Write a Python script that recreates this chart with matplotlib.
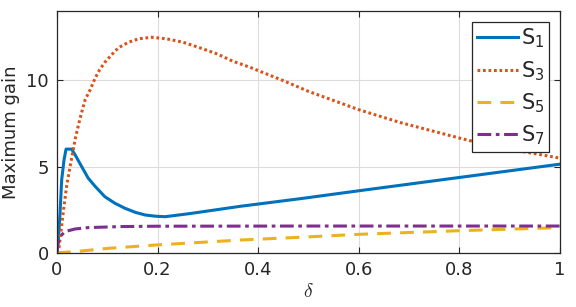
import matplotlib
matplotlib.use("Agg")
import matplotlib.pyplot as plt

# values
s1_x = [0, 0.0027, 0.006, 0.0093, 0.014, 0.018, 0.029, 0.036, 0.049, 0.062, 0.076,
        0.095, 0.115, 0.135, 0.155, 0.175, 0.195, 0.215, 0.264, 0.364, 0.483,
        0.6, 0.8, 1.0]
s1_y = [0, 0.75, 2.3, 4.23, 5.39, 6.01, 6.01, 5.68, 5.0, 4.33, 3.85,
        3.26, 2.88, 2.59, 2.36, 2.2, 2.13, 2.1, 2.28, 2.7, 3.14,
        3.6, 4.37, 5.14]

s3_x = [0, 0.004, 0.013, 0.019, 0.026, 0.037, 0.046, 0.056, 0.066, 0.076, 0.085,
        0.095, 0.109, 0.122, 0.142, 0.162, 0.188, 0.218, 0.251, 0.284, 0.318,
        0.35, 0.384, 0.4, 0.45, 0.5, 0.6, 0.682, 0.8, 0.836, 0.914, 1.0]
s3_y = [0, 0.3, 2.49, 3.85, 5.0, 6.71, 7.81, 8.87, 9.45, 10.13, 10.61,
        11.03, 11.48, 11.87, 12.19, 12.39, 12.48, 12.39, 12.19, 11.87, 11.52,
        11.09, 10.74, 10.55, 9.97, 9.35, 8.29, 7.55, 6.65, 6.39, 5.93, 5.49]

s5_x = [0, 0.003, 0.036, 0.102, 0.195, 0.364, 0.483, 0.6, 0.8, 1.0]
s5_y = [0, 0.02, 0.08, 0.27, 0.46, 0.75, 0.91, 1.08, 1.29, 1.47]

s7_x = [0, 0.001, 0.006, 0.016, 0.036, 0.062, 0.129, 0.2, 0.5, 1.0]
s7_y = [0, 0.46, 0.95, 1.24, 1.39, 1.47, 1.53, 1.55, 1.56, 1.56]

labels = [r"$\mathregular{S_1}$", r"$\mathregular{S_3}$",
          r"$\mathregular{S_5}$", r"$\mathregular{S_7}$"]

txt = "#262626"
plt.rcParams["font.size"] = 13
plt.rcParams["text.color"] = txt
plt.rcParams["axes.labelcolor"] = txt
plt.rcParams["mathtext.fontset"] = "cm"

fig = plt.figure(figsize=(5.76, 3.07), dpi=100)
ax = fig.add_axes([57 / 576, 1 - 253 / 307, 503 / 576, 242 / 307])

ax.plot(s1_x, s1_y, color="#0072BD", lw=2.2, ls="-", label=labels[0])
ax.plot(s3_x, s3_y, color="#D95319", lw=2.2, ls=(0, (0.9, 0.9)), label=labels[1])
ax.plot(s5_x, s5_y, color="#EDB120", lw=2.2, ls=(0, (4.5, 3)), label=labels[2])
ax.plot(s7_x, s7_y, color="#7E2F8E", lw=2.2, ls=(0, (4.5, 1.5, 1.2, 1.5)), label=labels[3])

ax.set_xlim(0, 1)
ax.set_ylim(0, 14)
ax.set_xticks([0, 0.2, 0.4, 0.6, 0.8, 1])
ax.set_xticklabels(["0", "0.2", "0.4", "0.6", "0.8", "1"])
ax.set_yticks([0, 5, 10])
ax.grid(True, color="#dcdcdc", lw=0.8)
ax.set_axisbelow(True)
ax.tick_params(direction="in", top=True, right=True, colors=txt, length=4,
               labelcolor=txt, pad=6)
for sp in ax.spines.values():
    sp.set_color(txt)
    sp.set_linewidth(0.9)

ax.set_xlabel(r"$\delta$", labelpad=2, fontsize=14)
ax.set_ylabel("Maximum gain", labelpad=4)

leg = ax.legend(loc="upper right", bbox_to_anchor=(492 / 503, 231 / 242),
                borderaxespad=0, fancybox=False, framealpha=1, edgecolor=txt,
                handlelength=1.95, handletextpad=0.15, labelspacing=0.42,
                borderpad=0.22, fontsize=15)
leg.get_frame().set_linewidth(0.9)

fig.savefig("out.png", dpi=100)
